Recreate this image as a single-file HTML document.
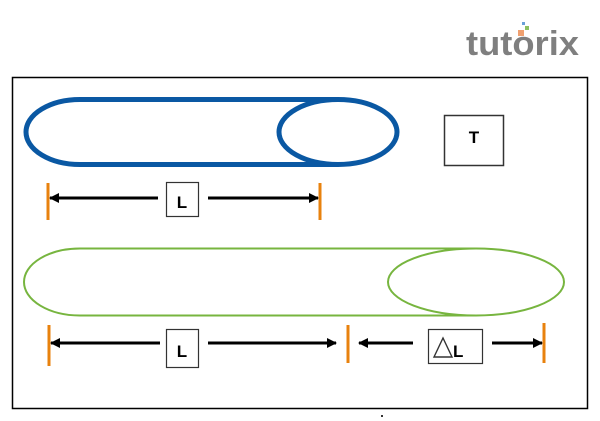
<!DOCTYPE html>
<html><head><meta charset="utf-8"><style>
html,body{margin:0;padding:0;background:#fff;}
svg{display:block}
text{font-family:"Liberation Sans",sans-serif;}
</style></head><body>
<svg width="600" height="421" viewBox="0 0 600 421" xmlns="http://www.w3.org/2000/svg">
<defs>
<marker id="ah" markerWidth="10" markerHeight="10" refX="9" refY="5" orient="auto" markerUnits="userSpaceOnUse">
<path d="M0,0 L10,5 L0,10 Z" fill="#000"/>
</marker>
</defs>
<!-- logo -->
<text x="466" y="55" font-size="34" font-weight="bold" fill="#7f7f7f" textLength="113" lengthAdjust="spacingAndGlyphs">tutorix</text>
<rect x="518" y="30" width="6" height="6" fill="#f0a070"/>
<rect x="525" y="26" width="4" height="4" fill="#8cc060"/>
<rect x="522" y="22" width="3" height="3" fill="#6aa0d8"/>
<!-- frame -->
<rect x="12.5" y="77.5" width="575" height="331" fill="none" stroke="#000" stroke-width="1.5"/>
<!-- blue capsule -->
<path d="M338,99.5 H80 A54,32.5 0 0 0 80,164.5 H338" fill="none" stroke="#0a58a3" stroke-width="5"/>
<ellipse cx="338" cy="132" rx="59" ry="32.5" fill="none" stroke="#0a58a3" stroke-width="5"/>
<!-- T box -->
<rect x="444.5" y="115.5" width="59" height="50" fill="#fff" stroke="#333" stroke-width="1.5"/>
<text x="474" y="143" font-size="17" font-weight="bold" text-anchor="middle">T</text>
<!-- top dimension -->
<line x1="48" y1="183" x2="48" y2="220" stroke="#e8820e" stroke-width="3"/>
<line x1="320" y1="183" x2="320" y2="220" stroke="#e8820e" stroke-width="3"/>
<line x1="158" y1="198" x2="50" y2="198" stroke="#000" stroke-width="3" marker-end="url(#ah)"/>
<line x1="208" y1="198" x2="318" y2="198" stroke="#000" stroke-width="3" marker-end="url(#ah)"/>
<rect x="166.5" y="182.5" width="32" height="34" fill="#fff" stroke="#333" stroke-width="1.2"/>
<text x="182" y="208" font-size="17" font-weight="bold" text-anchor="middle">L</text>
<!-- green capsule -->
<path d="M476,248.5 H80 A56,33.5 0 0 0 80,315.5 H476" fill="none" stroke="#77b53f" stroke-width="2"/>
<ellipse cx="476" cy="282" rx="88" ry="33.5" fill="none" stroke="#77b53f" stroke-width="2"/>
<!-- bottom dimension -->
<line x1="49" y1="325" x2="49" y2="366" stroke="#e8820e" stroke-width="3"/>
<line x1="348" y1="325" x2="348" y2="363" stroke="#e8820e" stroke-width="3"/>
<line x1="544" y1="323" x2="544" y2="363" stroke="#e8820e" stroke-width="3"/>
<line x1="160" y1="343" x2="51" y2="343" stroke="#000" stroke-width="3" marker-end="url(#ah)"/>
<line x1="208" y1="343" x2="336" y2="343" stroke="#000" stroke-width="3" marker-end="url(#ah)"/>
<line x1="413" y1="343" x2="359" y2="343" stroke="#000" stroke-width="3" marker-end="url(#ah)"/>
<line x1="492" y1="343" x2="542" y2="343" stroke="#000" stroke-width="3" marker-end="url(#ah)"/>
<rect x="166.5" y="329.5" width="32" height="38" fill="#fff" stroke="#333" stroke-width="1.2"/>
<text x="182" y="357" font-size="17" font-weight="bold" text-anchor="middle">L</text>
<rect x="428.5" y="329.5" width="54" height="34" fill="#fff" stroke="#333" stroke-width="1.2"/>
<path d="M434,357 L443,338 L452,357 Z" fill="none" stroke="#333" stroke-width="1.4"/>
<text x="453" y="357" font-size="17" font-weight="bold">L</text>
<rect x="381" y="415" width="2" height="2" fill="#333"/>
</svg>
</body></html>
